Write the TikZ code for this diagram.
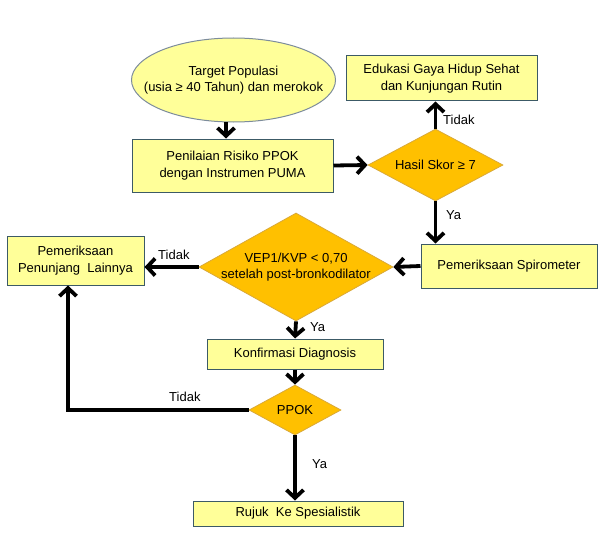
\documentclass[tikz,border=0pt]{standalone}
\usepackage{fontspec}
\setmainfont{Liberation Sans}
\usepackage{tikz}
\usetikzlibrary{arrows.meta,shapes.geometric}
\definecolor{alurkotak}{HTML}{FFFF99}
\definecolor{alurgaris}{HTML}{3C5A66}
\definecolor{alurbelah}{HTML}{FFC000}
\definecolor{alurtepi}{HTML}{D9A93A}
\definecolor{alurelips}{HTML}{7D8C9C}

\begin{document}
\begin{tikzpicture}[x=1pt, y=-1pt,
      every node/.style={font=\fontsize{13}{16.5}\selectfont},
      kotak/.style={draw=alurgaris, fill=alurkotak, line width=1pt, inner sep=0pt, align=center},
      belah/.style={diamond, draw=alurtepi, fill=alurbelah, line width=0.8pt, inner sep=-25pt,
                 aspect=1.8, align=center},
      lbl/.style={anchor=west, inner sep=0pt},
      arr/.style={-{Straight Barb[length=8pt,width=17pt]}, line width=3.8pt, black}]
    \useasboundingbox (0,0) rectangle (603,551);
    \node[ellipse, draw=alurelips, fill=alurkotak, line width=1pt, inner xsep=-20pt, inner ysep=0pt,
          minimum width=204, minimum height=84, align=center] (target) at (233.5,80)
      {Target Populasi\\(usia ≥ 40 Tahun) dan merokok};
    \node[kotak, minimum width=201, minimum height=53] (nilai) at (232.5,165.5)
      {Penilaian Risiko PPOK\\dengan Instrumen PUMA};
    \node[belah, minimum width=135, minimum height=72] (skor) at (435.5,165) {Hasil Skor ≥ 7};
    \node[kotak, minimum width=191, minimum height=45] (edukasi) at (441.5,78.5)
      {Edukasi Gaya Hidup Sehat\\dan Kunjungan Rutin};
    \node[kotak, minimum width=176, minimum height=44] (spiro) at (509,266) {Pemeriksaan Spirometer};
    \node[belah, minimum width=194, minimum height=108] (vep) at (296,267)
      {VEP1/KVP < 0,70\\setelah post-bronkodilator};
    \node[kotak, minimum width=137, minimum height=49] (penunjang) at (75.5,260.5)
      {Pemeriksaan\\Penunjang\ \ Lainnya};
    \node[kotak, minimum width=176, minimum height=30] (konfirmasi) at (295,354) {Konfirmasi Diagnosis};
    \node[belah, minimum width=92, minimum height=50] (ppok) at (295,410) {PPOK};
    \node[kotak, minimum width=210, minimum height=25] (rujuk) at (298,513.5) {Rujuk\ \ Ke Spesialistik};
    \coordinate (masuk) at (226,0);
    \coordinate (balik) at (68,410);
    % penghubung
    \draw[arr] (target.south -| masuk) -- (nilai.north -| masuk);
    \draw[arr] (nilai.east) -- (skor.west);
    \draw[arr] (skor.north) -- (skor.north |- edukasi.south);
    \draw[arr] (skor.south) -- (skor.south |- spiro.north);
    \draw[arr] (spiro.west) -- (vep.east);
    \draw[arr] (vep.west) -- (vep.west -| penunjang.east);
    \draw[arr] (vep.south) -- (konfirmasi.north);
    \draw[arr] (konfirmasi.south) -- (ppok.north);
    \draw[arr] (ppok.south) -- (ppok.south |- rujuk.north);
    \draw[arr] (ppok.west) -- (balik) -- (balik |- penunjang.south);
    \node[lbl] (t1) at (443,120) {Tidak};
    \node[lbl] (y1) at (446,215) {Ya};
    \node[lbl] (t2) at (158,255) {Tidak};
    \node[lbl] (y2) at (310,327) {Ya};
    \node[lbl] (t3) at (169,397) {Tidak};
    \node[lbl] (y3) at (312,464) {Ya};
  \end{tikzpicture}
\end{document}
